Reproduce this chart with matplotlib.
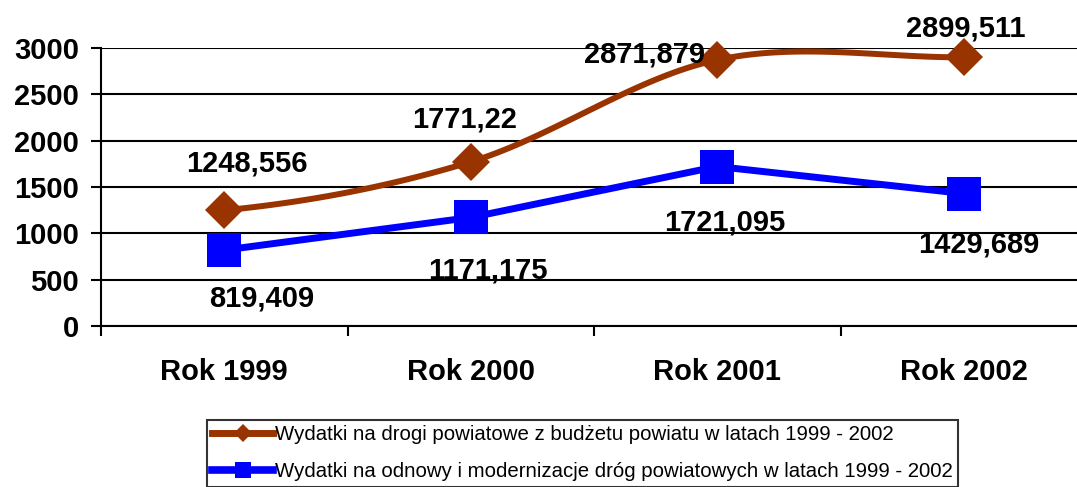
#import libraries
import numpy as np
import matplotlib
matplotlib.use('Agg')
import matplotlib.pyplot as plt
from matplotlib.lines import Line2D

plt.rcParams['font.family'] = ['Liberation Sans', 'DejaVu Sans']

#data
#----------------------------------------
years = ['Rok 1999', 'Rok 2000', 'Rok 2001', 'Rok 2002']
budget = [1248.556, 1771.22, 2871.879, 2899.511]
renewal = [819.409, 1171.175, 1721.095, 1429.689]
budget_label = 'Wydatki na drogi powiatowe z budżetu powiatu w latach 1999 - 2002'
renewal_label = 'Wydatki na odnowy i modernizacje dróg powiatowych w latach 1999 - 2002'

# label offsets (pixels) from each marker
budget_off = [(23, 47), (-6, 42), (-73, 5), (2, 29)]
renewal_off = [(37, -48), (17, -53), (8, -56), (15, -51)]

brown = '#993300'
blue = '#0000ff'


def smooth(xs, ys, n=40):
    # catmull-rom style smoothing like the excel "smoothed line"
    xs = np.asarray(xs, float)
    ys = np.asarray(ys, float)
    m = np.zeros_like(ys)
    m[0] = (ys[1] - ys[0]) / 2
    m[-1] = (ys[-1] - ys[-2]) / 2
    for i in range(1, len(ys) - 1):
        m[i] = (ys[i + 1] - ys[i - 1]) / 2
    out_x, out_y = [], []
    for i in range(len(ys) - 1):
        t = np.linspace(0, 1, n)
        h00 = 2 * t**3 - 3 * t**2 + 1
        h10 = t**3 - 2 * t**2 + t
        h01 = -2 * t**3 + 3 * t**2
        h11 = t**3 - t**2
        out_x.extend(xs[i] + t * (xs[i + 1] - xs[i]))
        out_y.extend(h00 * ys[i] + h10 * m[i] + h01 * ys[i + 1] + h11 * m[i + 1])
    return out_x, out_y


fig = plt.figure(figsize=(10.77, 4.87), dpi=100)
ax = fig.add_axes([101 / 1077, 1 - 326 / 487, 986 / 1077, 278 / 487])

x = np.arange(len(years))

sx, sy = smooth(x, budget)
ax.plot(sx, sy, color=brown, lw=4.3, zorder=3, clip_on=False, solid_capstyle='round')
ax.plot(x, budget, 'D', color=brown, ms=19, mew=0, zorder=4, clip_on=False)
ax.plot(x, renewal, '-', color=blue, lw=5, zorder=3, clip_on=False)
ax.plot(x, renewal, 's', color=blue, ms=24.5, mew=0, zorder=4, clip_on=False)

for xi, v, (dx, dy) in zip(x, budget, budget_off):
    ax.annotate(str(v).replace('.', ','), (xi, v), xytext=(dx * 0.72, dy * 0.72),
                textcoords='offset points', ha='center', va='center',
                fontsize=21, fontweight='bold', zorder=5)
for xi, v, (dx, dy) in zip(x, renewal, renewal_off):
    ax.annotate(str(v).replace('.', ','), (xi, v), xytext=(dx * 0.72, dy * 0.72),
                textcoords='offset points', ha='center', va='center',
                fontsize=21, fontweight='bold', zorder=5)

ax.set_xlim(-0.5, 3.5)
ax.set_ylim(0, 3000)
ax.set_yticks(np.arange(0, 3001, 500))
ax.set_xticks(x)
ax.set_xticklabels(years)
ax.set_xticks(np.arange(-0.5, 3.6, 1), minor=True)
ax.tick_params(axis='x', which='major', length=0, pad=23, labelsize=21)
ax.tick_params(axis='x', which='minor', length=7, width=1.5, direction='out')
ax.tick_params(axis='y', length=7, width=1.5, pad=9, labelsize=21)
for lab in ax.get_xticklabels() + ax.get_yticklabels():
    lab.set_fontweight('bold')

ax.grid(axis='y', color='black', lw=1.5)
ax.set_axisbelow(True)
for s in ['top', 'right']:
    ax.spines[s].set_visible(False)
for s in ['left', 'bottom']:
    ax.spines[s].set_linewidth(1.5)

handles = [
    Line2D([], [], color=brown, lw=5, marker='D', ms=9, mew=0),
    Line2D([], [], color=blue, lw=5.5, marker='s', ms=11, mew=0),
]
leg = fig.legend(handles, [budget_label, renewal_label], loc='upper left',
                 bbox_to_anchor=(207 / 1077, 1 - 420 / 487), fontsize=14.7,
                 frameon=True, fancybox=False, edgecolor='black',
                 handlelength=3.0, handletextpad=0.1, labelspacing=0.9,
                 borderpad=0.25, borderaxespad=0)
leg.get_frame().set_linewidth(1.5)

plt.savefig('out.png', dpi=100)
